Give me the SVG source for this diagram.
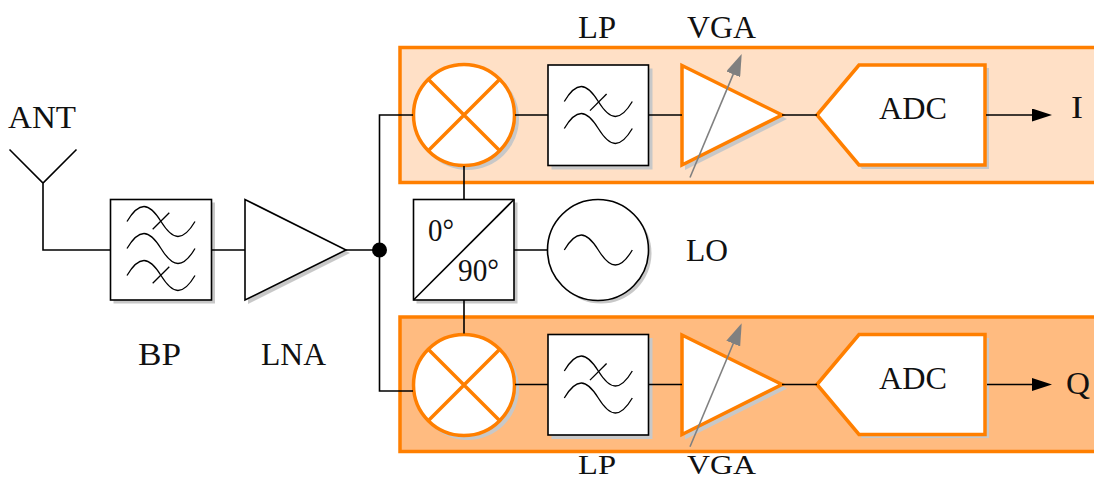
<svg xmlns="http://www.w3.org/2000/svg" xmlns:xlink="http://www.w3.org/1999/xlink" width="1094" height="480" viewBox="0 0 1094 480">
<style>
text{font-family:"Liberation Serif","Times New Roman",serif;font-size:32px;fill:#111;text-anchor:start}
text.low{font-size:28px}
.w{fill:none;stroke:#000;stroke-width:1.6;stroke-linejoin:miter}
.b{fill:#fff;stroke:#000;stroke-width:1.6;stroke-linejoin:miter}
.o{fill:#fff;stroke:#ff7f00;stroke-width:3.5;stroke-linejoin:miter}
.ol{fill:none;stroke:#ff7f00;stroke-width:3.5}
.s{fill:#c8c8c8;stroke:none}
.g{fill:none;stroke:#808080;stroke-width:1.6}
.t{fill:none;stroke:#000;stroke-width:1.3}
</style>
<defs>
<marker id="ah" markerUnits="userSpaceOnUse" markerWidth="20" markerHeight="13" refX="8" refY="6.5" orient="auto"><path d="M0 0L20 6.5L0 13Z" fill="#000"/></marker>
<marker id="ag" markerUnits="userSpaceOnUse" markerWidth="22" markerHeight="15" refX="8" refY="7.5" orient="auto"><path d="M0 0L22 7.5L0 15Z" fill="#808080"/></marker>
<path id="sine" class="t" d="M0 0C5.6-9.5 11-15 17-15C23-15 28.4-9 34 0C39.6 9 45 15 51 15C57 15 62.4 9.5 68 0"/>
<path id="stop" class="t" d="M0 16.600L16.600 0"/>
</defs>
<g id="panel-i"><rect x="400" y="47.500" width="700" height="135" fill="#ffe0c6" stroke="#ff7f00" stroke-width="3.500"/></g>
<g id="panel-q"><rect x="400" y="317" width="700" height="134.500" fill="#ffbb80" stroke="#ff7f00" stroke-width="3.500"/></g>
<g id="ant"><text x="8" y="128" textLength="68" lengthAdjust="spacingAndGlyphs">ANT</text></g>
<g id="bp">
<rect class="s" x="113.500" y="202.500" width="101.500" height="101"/>
<rect class="b" x="110.500" y="199.500" width="101" height="100.500"/>
<use xlink:href="#sine" href="#sine" x="127" y="221.500"/><use xlink:href="#sine" href="#sine" x="127" y="248.500"/><use xlink:href="#sine" href="#sine" x="127" y="275.500"/>
<use xlink:href="#stop" href="#stop" x="152.700" y="212.700"/><use xlink:href="#stop" href="#stop" x="152.700" y="266.700"/>
<text x="138" y="365" textLength="43" lengthAdjust="spacingAndGlyphs">BP</text>
</g>
<g id="lna">
<path class="s" d="M248 203V304L350 253Z"/>
<path class="b" d="M245 199.500V300L346 250Z"/>
<text x="261" y="365" textLength="65" lengthAdjust="spacingAndGlyphs">LNA</text>
</g>
<g id="splitter">
<rect class="s" x="416.500" y="202.500" width="101" height="101"/>
<rect class="b" x="413.500" y="199.500" width="100.500" height="100.500"/>
<path class="w" d="M413.500 300L514 199.500"/>
<text x="428" y="241" textLength="26" lengthAdjust="spacingAndGlyphs">0°</text>
<text x="458" y="281" textLength="41" lengthAdjust="spacingAndGlyphs">90°</text>
</g>
<g id="lo">
<circle class="s" cx="601" cy="253" r="50.500"/>
<circle class="b" cx="598" cy="250" r="50.500"/>
<use xlink:href="#sine" href="#sine" x="564.300" y="250"/>
<text x="686" y="261" textLength="42" lengthAdjust="spacingAndGlyphs">LO</text>
</g>
<g id="mixer-i">
<circle class="s" cx="467.500" cy="118.500" r="51.500"/>
<circle class="o" cx="464" cy="115" r="50.500"/>
<path class="ol" d="M428.500 79.500L499.500 150.500M499.500 79.500L428.500 150.500"/>
</g>
<g id="lp-i">
<rect class="s" x="551.500" y="68.500" width="101" height="101"/>
<rect class="b" x="548" y="65" width="100.500" height="100.500"/>
<use xlink:href="#sine" href="#sine" x="564.300" y="101.500"/><use xlink:href="#sine" href="#sine" x="564.300" y="128.500"/>
<use xlink:href="#stop" href="#stop" x="590" y="94"/>
<text x="578" y="38" textLength="38" lengthAdjust="spacingAndGlyphs">LP</text>
</g>
<g id="vga-i">
<path class="s" d="M685 69V170L787 119Z"/>
<path class="o" d="M682 65.500V165L782 115Z"/>
<path class="g" d="M690 177.500L736.300 66.900" marker-end="url(#ag)"/>
<text x="687" y="38" textLength="69" lengthAdjust="spacingAndGlyphs">VGA</text>
</g>
<g id="adc-i">
<path class="s" d="M820 118L862 68H989V169H862Z"/>
<path class="o" d="M817 115L859 65H985V165H859Z"/>
<text x="879" y="119" textLength="68" lengthAdjust="spacingAndGlyphs">ADC</text>
</g>
<text id="out-i" x="1071" y="118" textLength="12" lengthAdjust="spacingAndGlyphs">I</text>
<g id="mixer-q">
<circle class="s" cx="467.500" cy="388.500" r="51.500"/>
<circle class="o" cx="464" cy="385" r="50.500"/>
<path class="ol" d="M428.500 349.500L499.500 420.500M499.500 349.500L428.500 420.500"/>
</g>
<g id="lp-q">
<rect class="s" x="551.500" y="338" width="101" height="101"/>
<rect class="b" x="548" y="334.500" width="100.500" height="100.500"/>
<use xlink:href="#sine" href="#sine" x="564.300" y="371"/><use xlink:href="#sine" href="#sine" x="564.300" y="398"/>
<use xlink:href="#stop" href="#stop" x="590" y="363.500"/>
<text class="low" x="578" y="473.500" textLength="38" lengthAdjust="spacingAndGlyphs">LP</text>
</g>
<g id="vga-q">
<path class="s" d="M685 338.500V439.500L787 388.500Z"/>
<path class="o" d="M682 335V434.500L782 384.500Z"/>
<path class="g" d="M690 446.800L736.300 336.200" marker-end="url(#ag)"/>
<text class="low" x="687" y="473.500" textLength="69" lengthAdjust="spacingAndGlyphs">VGA</text>
</g>
<g id="adc-q">
<path class="s" d="M820 388L862 338H989V438H862Z"/>
<path class="o" d="M817 384.500L859 334.500H985V434.500H859Z"/>
<text x="879" y="389" textLength="68" lengthAdjust="spacingAndGlyphs">ADC</text>
</g>
<text id="out-q" x="1066" y="394" textLength="24" lengthAdjust="spacingAndGlyphs">Q</text>
<g id="connectors">
<path class="w" d="M9.500 149.500L43 183L76.500 149.500M43 183V250H110.500"/>
<path class="w" d="M211.500 250H245M346 250H379.500M413 115H379.500V391H413"/>
<path class="w" d="M464 166V199.500M464 300V333.500M514 250H548"/>
<path class="w" d="M515 115H548M648.500 115H682M782 115H817M515 384.500H548M648.500 384.500H682M782 384.500H817"/>
<path class="w" d="M986 115H1040" marker-end="url(#ah)"/>
<path class="w" d="M987 384.500H1040" marker-end="url(#ah)"/>
</g>
<circle id="junction" cx="379.500" cy="250" r="7.500" fill="#000"/>
</svg>
